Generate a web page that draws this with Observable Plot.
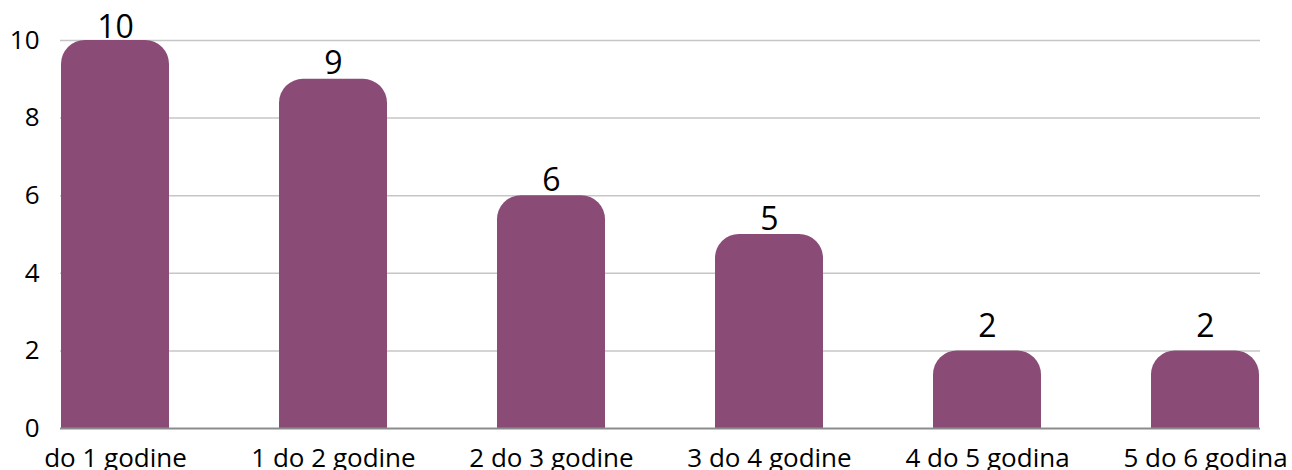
<!DOCTYPE html>
<html>
<head>
<meta charset="utf-8">
<script src="https://cdn.jsdelivr.net/npm/d3@7"></script>
<script src="https://cdn.jsdelivr.net/npm/@observablehq/plot@0.6"></script>
<style>
  html, body { margin: 0; padding: 0; background: #fff; overflow: hidden; }
  #chart svg { display: block; }
</style>
</head>
<body>
<div id="chart"></div>
<script>
const categories = ["do 1 godine", "1 do 2 godine", "2 do 3 godine", "3 do 4 godine", "4 do 5 godina", "5 do 6 godina"];
const values = [10, 9, 6, 5, 2, 2];
const yTicks = [0, 2, 4, 6, 8, 10];

const data = categories.map((c, i) => ({cat: c, v: values[i]}));
const barColor = "#8a4c77";
const maxV = d3.max(values);

const chart = Plot.plot({
  width: 1292,
  height: 470,
  marginLeft: 60,
  marginRight: 32,
  marginTop: 40,
  marginBottom: 42,
  style: {fontFamily: "'Open Sans', sans-serif", fontSize: "24px", color: "#000", background: "#fff", overflow: "visible"},
  x: {domain: categories, paddingInner: 0.505, paddingOuter: 0, label: null},
  y: {domain: [0, 10], label: null},
  marks: [
    Plot.ruleY(yTicks.filter(t => t > 0), {stroke: "#c6c6c6", strokeWidth: 1.5}),
    Plot.barY(data, {x: "cat", y: "v", fill: barColor, rx: 24}),
    Plot.barY(data, {x: "cat", y1: 0, y2: d => d.v / 2, fill: barColor}),
    Plot.ruleY([0], {stroke: "#8c8c8c", strokeWidth: 2}),
    Plot.text(data.filter(d => d.v === maxV), {x: "cat", y: "v", text: d => String(d.v), lineAnchor: "bottom", dy: -3, fill: "#000", fontSize: 32}),
    Plot.text(data.filter(d => d.v !== maxV && d.v > 2), {x: "cat", y: "v", text: d => String(d.v), lineAnchor: "bottom", dy: -5, fill: "#000", fontSize: 32}),
    Plot.text(data.filter(d => d.v <= 2), {x: "cat", y: "v", text: d => String(d.v), lineAnchor: "bottom", dy: -14, fill: "#000", fontSize: 32}),
    Plot.axisY(yTicks, {tickSize: 0, tickPadding: 21, fontSize: 26, fill: "#000", label: null}),
    Plot.axisX({tickSize: 0, tickPadding: 20, fontSize: 26, fill: "#000", label: null})
  ]
});
document.getElementById("chart").appendChild(chart);
</script>
</body>
</html>
